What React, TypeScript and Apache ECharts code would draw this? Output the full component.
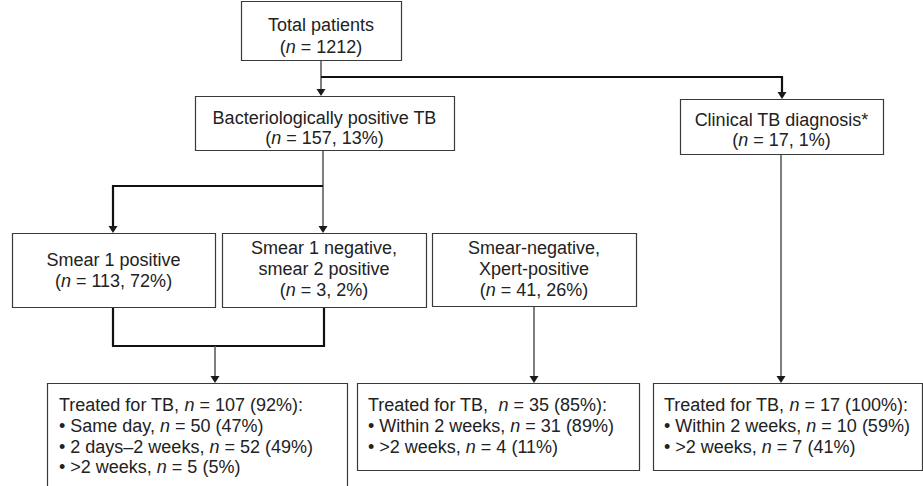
import React, { useEffect, useRef } from "react";
import * as echarts from "echarts";

// ---- Texts (data) ----
const totalLabel = ["Total patients", "({i|n} = 1212)"];
const bactLabel = ["Bacteriologically positive TB", "({i|n} = 157, 13%)"];
const clinicalLabel = ["Clinical TB diagnosis*", "({i|n} = 17, 1%)"];
const smear1PosLabel = ["Smear 1 positive", "({i|n} = 113, 72%)"];
const smear1NegLabel = ["Smear 1 negative,", "smear 2 positive", "({i|n} = 3, 2%)"];
const xpertLabel = ["Smear-negative,", "Xpert-positive", "({i|n} = 41, 26%)"];
const treatedSmearLines = [
  "Treated for TB, {i|n} = 107 (92%):",
  "\u2022 Same day, {i|n} = 50 (47%)",
  "\u2022 2 days\u20132 weeks, {i|n} = 52 (49%)",
  "\u2022 >2 weeks, {i|n} = 5 (5%)",
];
const treatedXpertLines = [
  "Treated for TB,  {i|n} = 35 (85%):",
  "\u2022 Within 2 weeks, {i|n} = 31 (89%)",
  "\u2022 >2 weeks, {i|n} = 4 (11%)",
];
const treatedClinicalLines = [
  "Treated for TB, {i|n} = 17 (100%):",
  "\u2022 Within 2 weeks, {i|n} = 10 (59%)",
  "\u2022 >2 weeks, {i|n} = 7 (41%)",
];

// ---- Layout ----
const FONT = "'Liberation Sans', Arial, Helvetica, sans-serif";
const FS = 18;
const TEXT_COLOR = "#222";
const BOX_STROKE = "#3a3a3a";
const GRAY_LINE = "#555";
const BLACK_LINE = "#111";

type Box = {
  lines: string[];
  x: number;
  y: number;
  w: number;
  h: number;
  ys: number[];
  left?: boolean;
  textX?: number;
};

const boxes: Box[] = [
  { lines: totalLabel, x: 241, y: 1, w: 160, h: 59, ys: [25, 47] },
  { lines: bactLabel, x: 195, y: 96, w: 259, h: 54, ys: [118, 138] },
  { lines: clinicalLabel, x: 680, y: 99, w: 203, h: 55, ys: [120, 140] },
  { lines: smear1PosLabel, x: 12, y: 233, w: 203, h: 74, ys: [260, 281] },
  { lines: smear1NegLabel, x: 222, y: 233, w: 204, h: 74, ys: [248, 269, 290] },
  { lines: xpertLabel, x: 432, y: 233, w: 204, h: 73, ys: [248, 269, 290] },
  { lines: treatedSmearLines, x: 47, y: 383, w: 300, h: 120, ys: [405, 426, 447, 467], left: true, textX: 59 },
  { lines: treatedXpertLines, x: 357, y: 383, w: 282, h: 87, ys: [405, 426, 447], left: true, textX: 368 },
  { lines: treatedClinicalLines, x: 653, y: 383, w: 269, h: 87, ys: [405, 426, 447], left: true, textX: 664 },
];

type Seg = { pts: number[][]; black?: boolean };
const connectors: Seg[] = [
  { pts: [[321, 60], [321, 90]] },
  { pts: [[321, 77], [782, 77], [782, 93]], black: true },
  { pts: [[323, 150], [323, 228]] },
  { pts: [[323, 186], [113, 186], [113, 228]], black: true },
  { pts: [[113, 307], [113, 346], [324, 346], [324, 307]], black: true },
  { pts: [[215, 346], [215, 378]] },
  { pts: [[534, 306], [534, 378]] },
  { pts: [[781, 154], [781, 378]] },
];
const arrowTips = [
  [321, 96],
  [782, 99],
  [323, 233],
  [113, 233],
  [215, 383],
  [534, 383],
  [781, 383],
];

function buildElements() {
  const els: any[] = [];
  connectors.forEach((c) => {
    els.push({
      type: "polyline",
      shape: { points: c.pts },
      style: {
        stroke: c.black ? BLACK_LINE : GRAY_LINE,
        lineWidth: c.black ? 2.2 : 1.5,
        fill: null,
      },
      z: 1,
    });
  });
  boxes.forEach((b) => {
    els.push({
      type: "rect",
      shape: { x: b.x + 0.5, y: b.y + 0.5, width: b.w, height: b.h },
      style: { fill: "#fff", stroke: BOX_STROKE, lineWidth: 1.2 },
      z: 2,
    });
    b.lines.forEach((t, i) => {
      const x = b.left ? (b.textX as number) : b.x + b.w / 2;
      els.push({
        type: "text",
        x,
        y: b.ys[i],
        style: {
          text: t,
          fill: TEXT_COLOR,
          fontSize: FS,
          fontFamily: FONT,
          align: b.left ? "left" : "center",
          verticalAlign: "middle",
          rich: {
            i: { fontStyle: "italic", fontSize: FS, fontFamily: FONT, fill: TEXT_COLOR },
          },
        },
        z: 4,
      });
    });
  });
  arrowTips.forEach(([x, y]) => {
    els.push({
      type: "polygon",
      shape: { points: [[x - 4.5, y - 7], [x + 4.5, y - 7], [x, y]] },
      style: { fill: "#1a1a1a" },
      z: 3,
    });
  });
  return els;
}

export default function App() {
  const ref = useRef<HTMLDivElement>(null);
  useEffect(() => {
    if (!ref.current) return;
    const chart = echarts.init(ref.current, undefined, { renderer: "svg" });
    chart.setOption({
      animation: false,
      backgroundColor: "#fff",
      graphic: { elements: buildElements() },
    });
    return () => chart.dispose();
  }, []);
  return (
    <div
      ref={ref}
      style={{ position: "absolute", left: 0, top: 0, width: 923, height: 486, background: "#fff" }}
    />
  );
}
